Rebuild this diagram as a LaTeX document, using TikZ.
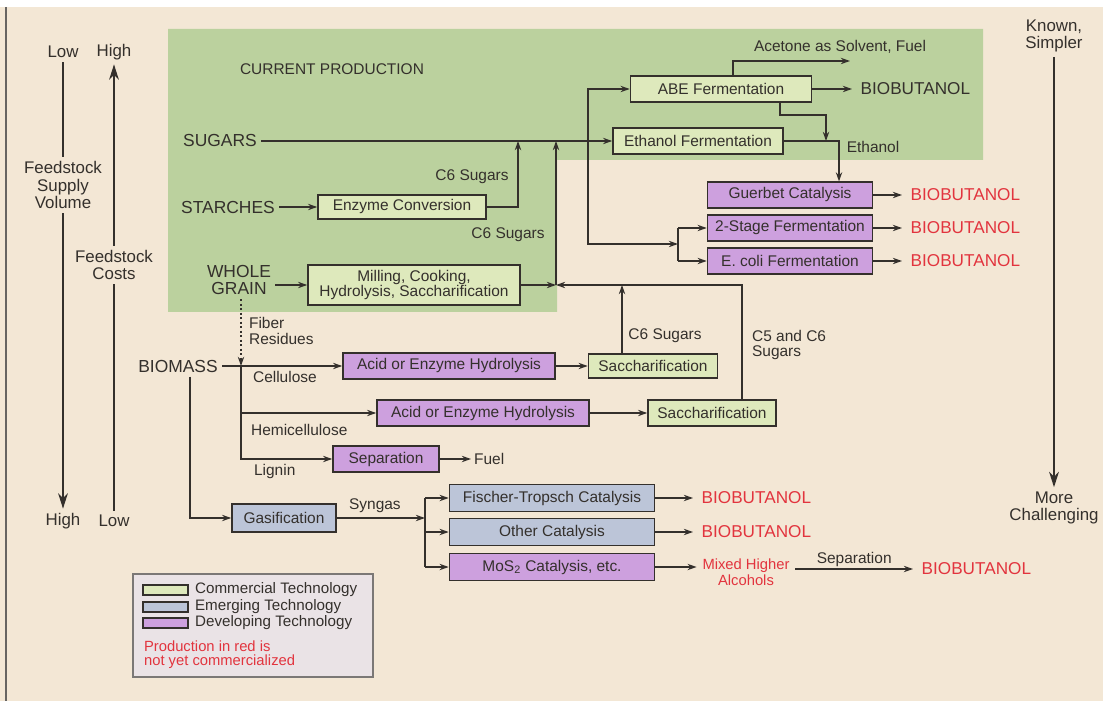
\documentclass[tikz,border=0pt]{standalone}
\usepackage{fontspec}
\setmainfont{Liberation Sans}
\usetikzlibrary{arrows.meta}
\definecolor{paper}{RGB}{243,231,213}
\definecolor{prodgreen}{RGB}{187,209,158}
\definecolor{commfill}{RGB}{222,233,188}
\definecolor{emfill}{RGB}{188,197,216}
\definecolor{devfill}{RGB}{205,160,222}
\definecolor{legfill}{RGB}{234,227,230}
\definecolor{ink}{RGB}{52,48,44}
\definecolor{notyet}{RGB}{226,52,62}
\tikzset{
  every node/.style={text=ink},
  tech/.style={draw=ink, line width=1.1pt, minimum height=0.64cm, inner sep=1pt, font=\fontsize{11}{10.6}\selectfont},
  comm/.style={tech, fill=commfill},
  emerg/.style={tech, fill=emfill},
  devel/.style={tech, fill=devfill},
  feed/.style={font=\fontsize{12.4}{12.2}\selectfont, inner sep=3pt, align=center},
  axis/.style={font=\fontsize{12}{12.4}\selectfont, inner sep=3pt, align=center},
  lbl/.style={font=\fontsize{11}{10.6}\selectfont, inner sep=2pt},
  butanol/.style={font=\fontsize{12.2}{12}\selectfont, text=notyet, inner sep=6pt, anchor=west},
  flow/.style={draw=ink, line width=1pt, -{Stealth[length=6.5pt,width=4.5pt]}},
  trend/.style={draw=ink, line width=1pt, -{Stealth[length=11pt,width=7pt]}},
}
\begin{document}
\begin{tikzpicture}[x=0.025cm, y=-0.025cm]
\useasboundingbox (0,0) rectangle (1103,701);
\fill[paper] (0,7) rectangle (1103,701);
\draw[ink!75, line width=1.2pt] (6,7) -- (6,701);
\fill[prodgreen] (168,29) -- (983,29) -- (983,160) -- (557,160) -- (557,312) -- (168,312) -- cycle;
\node[lbl] (current) at (332,69) {CURRENT PRODUCTION};

\node[axis] (lowtop) at (63,52) {Low};
\node[axis] (hightop) at (114,52) {High};
\node[axis] (volume) at (63,185) {Feedstock\\Supply\\Volume};
\node[axis] (costs) at (114,265) {Feedstock\\Costs};
\node[axis] (highbot) at (63,521) {High};
\node[axis] (lowbot) at (114,521) {Low};
\draw[flow,-] (lowtop) -- (volume);
\draw[trend] (volume) -- (highbot);
\draw[flow,-] (lowbot) -- (costs);
\draw[trend] (costs) -- (hightop);
\node[axis] (known) at (1054,36) {Known,\\Simpler};
\node[axis] (harder) at (1054,508) {More\\Challenging};
\draw[trend] (known) -- (harder);

\node[feed] (sugars) at (220,141) {SUGARS};
\node[feed] (starches) at (228,207) {STARCHES};
\node[feed] (grain) at (239,280) {WHOLE\\GRAIN};
\node[feed] (biomass) at (178,366) {BIOMASS};

\node[comm, minimum width=4.525cm] (abe) at (721,89) {ABE Fermentation};
\node[comm, minimum width=4.25cm] (eth) at (698,141) {Ethanol Fermentation};
\node[devel, minimum width=4.125cm] (guerbet) at (790,195) {Guerbet Catalysis};
\node[devel, minimum width=4.125cm] (twostage) at (790,228) {2-Stage Fermentation};
\node[devel, minimum width=4.125cm] (ecoli) at (790,261) {E. coli Fermentation};
\node[comm, minimum width=4.2cm, minimum height=0.6cm] (enzyme) at (402,207) {Enzyme Conversion};
\node[comm, minimum width=5.3cm, minimum height=1cm, align=center] (milling) at (414,285) {Milling, Cooking,\\Hydrolysis, Saccharification};
\node[devel, minimum width=5.3cm] (acid1) at (449,366) {Acid or Enzyme Hydrolysis};
\node[comm, minimum width=3.225cm, minimum height=0.6cm] (sacch1) at (653,366) {Saccharification};
\node[devel, minimum width=5.3cm] (acid2) at (483,413) {Acid or Enzyme Hydrolysis};
\node[comm, minimum width=3.2cm] (sacch2) at (712,413) {Saccharification};
\node[devel, minimum width=2.65cm] (sep) at (386,459) {Separation};
\node[emerg, minimum width=2.6cm, minimum height=0.7cm] (gasif) at (284,518) {Gasification};
\node[emerg, minimum width=5.125cm, minimum height=0.67cm] (fischer) at (552,498) {Fischer-Tropsch Catalysis};
\node[emerg, minimum width=5.125cm, minimum height=0.67cm] (other) at (552,532) {Other Catalysis};
\node[devel, minimum width=5.125cm, minimum height=0.67cm] (mos) at (552,567) {MoS\textsubscript{2} Catalysis, etc.};

\node[butanol, text=ink] (bio0) at (852,89) {BIOBUTANOL};
\node[butanol] (bio1) at (902,195) {BIOBUTANOL};
\node[butanol] (bio2) at (902,228) {BIOBUTANOL};
\node[butanol] (bio3) at (902,261) {BIOBUTANOL};
\node[butanol] (bio4) at (693,498) {BIOBUTANOL};
\node[butanol] (bio5) at (693,532) {BIOBUTANOL};
\node[butanol] (bio6) at (913,569) {BIOBUTANOL};
\node[lbl, text=notyet, align=center, inner sep=4pt, font=\fontsize{10.5}{11.2}\selectfont] (mixed) at (746,572) {Mixed Higher\\Alcohols};

\node[lbl] (acetone) at (840,47) {Acetone as Solvent, Fuel};
\node[lbl] (ethlbl) at (873,147) {Ethanol};
\node[lbl] (c6one) at (472,177) {C6 Sugars};
\node[lbl] (c6two) at (508,235) {C6 Sugars};
\node[lbl] (c6three) at (665,336) {C6 Sugars};
\node[lbl, anchor=west, align=left] (c5lbl) at (749,345) {C5 and C6\\Sugars};
\node[lbl, anchor=west, align=left, font=\fontsize{11}{12}\selectfont] (fiber) at (246,331) {Fiber\\Residues};
\node[lbl, anchor=west] (cellulose) at (250,377) {Cellulose};
\node[lbl, anchor=west] (hemi) at (248,430) {Hemicellulose};
\node[lbl, anchor=west] (lignin) at (251,471) {Lignin};
\node[lbl, anchor=west] (fuel) at (471,459) {Fuel};

\coordinate (acetip) at (850,61);
\coordinate (ethjoin) at (826,115);
\coordinate (ethdrop) at (839,141);
\coordinate (abefeed) at (588,141);
\coordinate (ferm) at (678,244);
\coordinate (c6a) at (518,141);
\coordinate (grainjoin) at (556,285);
\coordinate (c6b) at (622,285);
\coordinate (c5c6) at (742,285);
\coordinate (fibre) at (241,366);
\coordinate (gasdrop) at (190,518);
\coordinate (syn) at (425,518);

\draw[flow] (sugars.east) -- (eth.west);
\draw[flow] (abefeed) |- (abe.west);
\draw[flow] (abe.east) -- (bio0.west);
\draw[flow] ([xshift=0.3cm]abe.north) |- (acetip);
\draw[flow] ([xshift=1.475cm]abe.south) |- (ethjoin) -- (ethjoin |- eth.east);
\draw[flow] (eth.east) -| (guerbet.north -| ethdrop);
\draw[flow] (abefeed) |- (ferm);
\draw[flow,-] (twostage.west -| ferm) -- (ecoli.west -| ferm);
\draw[flow] (twostage.west -| ferm) -- (twostage.west);
\draw[flow] (ecoli.west -| ferm) -- (ecoli.west);
\draw[flow] (guerbet.east) -- (bio1.west);
\draw[flow] (twostage.east) -- (bio2.west);
\draw[flow] (ecoli.east) -- (bio3.west);

\draw[flow] (starches.east) -- (enzyme.west);
\draw[flow] (enzyme.east) -| (c6a);
\draw[flow] (milling.west -| grain.east) -- (milling.west);
\draw[flow] (milling.east) -- (grainjoin);
\draw[flow] (grainjoin) -- (grainjoin |- sugars.east);
\draw[flow] (sacch1.north -| c6b) -- (c6b);
\draw[flow] (sacch2.north -| c5c6) |- (grainjoin);

\draw[flow] (biomass.east) -- (acid1.west);
\draw[flow, line width=1.3pt, dash pattern=on 1.6pt off 1.6pt] (grain.south -| fibre) -- (fibre);
\draw[flow] (fibre) |- (sep.west);
\draw[flow] (acid2.west -| fibre) -- (acid2.west);
\draw[flow] (acid1.east) -- (sacch1.west);
\draw[flow] (acid2.east) -- (sacch2.west);
\draw[flow] (sep.east) -- (fuel.west);
\draw[flow] (biomass.south -| gasdrop) |- (gasif.west);
\draw[flow] (gasif.east) -- (syn) node[lbl, midway, above=1pt, xshift=-0.15cm] (syngas) {Syngas};
\draw[flow,-] (fischer.west -| syn) -- (mos.west -| syn);
\draw[flow] (fischer.west -| syn) -- (fischer.west);
\draw[flow] (other.west -| syn) -- (other.west);
\draw[flow] (mos.west -| syn) -- (mos.west);
\draw[flow] (fischer.east) -- (bio4.west);
\draw[flow] (other.east) -- (bio5.west);
\draw[flow] (mos.east) -- (mos.east -| mixed.west);
\draw[flow] (bio6.west -| mixed.east) -- (bio6.west) node[lbl, midway, above=-1pt] (sepstep) {Separation};

\node[draw=ink!65, fill=legfill, line width=0.9pt, minimum width=6cm, minimum height=2.575cm] (legend) at (253,625.5) {};
\node[comm, line width=0.8pt, minimum width=1.125cm, minimum height=0.25cm, inner sep=0pt] (swcomm) at (165.5,590) {};
\node[emerg, line width=0.8pt, minimum width=1.125cm, minimum height=0.25cm, inner sep=0pt] (swemerg) at (165.5,607) {};
\node[devel, line width=0.8pt, minimum width=1.125cm, minimum height=0.25cm, inner sep=0pt] (swdevel) at (165.5,623) {};
\node[lbl, anchor=west, font=\fontsize{10.8}{10.8}\selectfont] (tcomm) at (192,590) {Commercial Technology};
\node[lbl, anchor=west, font=\fontsize{10.8}{10.8}\selectfont] (temerg) at (192,607) {Emerging Technology};
\node[lbl, anchor=west, font=\fontsize{10.8}{10.8}\selectfont] (tdevel) at (192,623) {Developing Technology};
\node[lbl, anchor=west, align=left, text=notyet, font=\fontsize{10.5}{10}\selectfont] (rednote) at (141,655) {Production in red is\\not yet commercialized};
\end{tikzpicture}
\end{document}
